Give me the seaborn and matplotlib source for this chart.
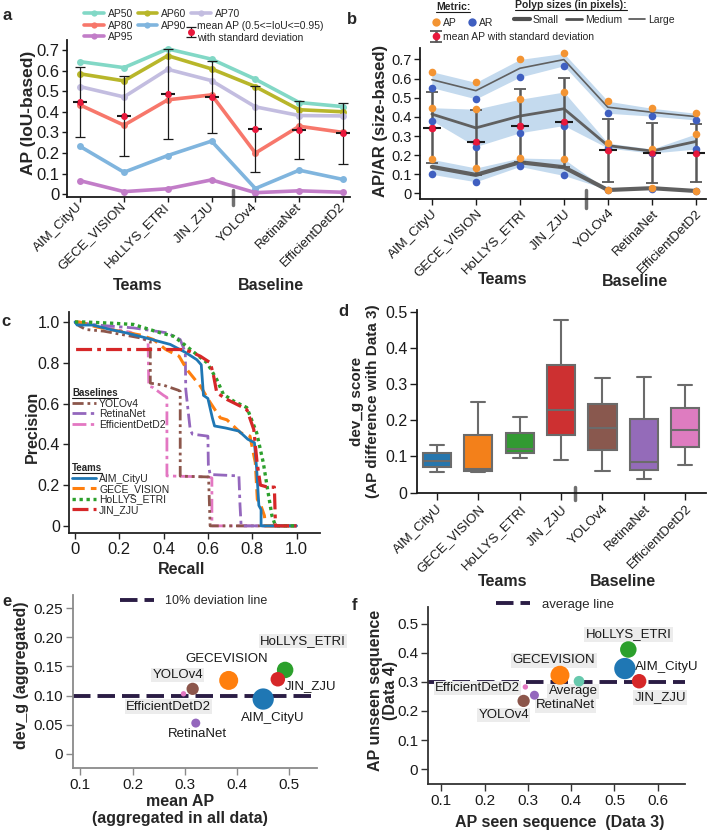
import numpy as np
import pandas as pd
import matplotlib.pyplot as plt
import seaborn as sns
from matplotlib.lines import Line2D
from matplotlib.ticker import FuncFormatter
from matplotlib.transforms import IdentityTransform

sns.set_theme(style="ticks")
plt.rcParams["font.family"] = ["Liberation Sans", "DejaVu Sans"]

# ----------------------------- data -----------------------------
teams = ["AIM_CityU", "GECE_VISION", "HoLLYS_ETRI", "JIN_ZJU", "YOLOv4", "RetinaNet", "EfficientDetD2"]

# a: IoU based AP
ap50 = [0.643, 0.614, 0.705, 0.655, 0.558, 0.445, 0.425]
ap60 = [0.584, 0.550, 0.672, 0.608, 0.522, 0.410, 0.400]
ap70 = [0.522, 0.472, 0.606, 0.551, 0.424, 0.382, 0.380]
ap80 = [0.433, 0.335, 0.458, 0.482, 0.200, 0.330, 0.300]
ap90 = [0.232, 0.107, 0.188, 0.258, 0.028, 0.117, 0.072]
ap95 = [0.066, 0.013, 0.027, 0.070, 0.008, 0.017, 0.010]
mean_ap = [0.446, 0.379, 0.486, 0.473, 0.316, 0.311, 0.295]
std_ap = [0.170, 0.195, 0.220, 0.175, 0.210, 0.140, 0.148]

# b: size based AP / AR
large_ap = [0.636, 0.580, 0.700, 0.732, 0.482, 0.445, 0.419]
large_ar = [0.553, 0.494, 0.608, 0.667, 0.419, 0.404, 0.384]
medium_ap = [0.448, 0.440, 0.492, 0.530, 0.263, 0.232, 0.311]
medium_ar = [0.381, 0.245, 0.317, 0.355, 0.237, 0.211, 0.232]
small_ap = [0.178, 0.133, 0.185, 0.180, 0.016, 0.030, 0.015]
small_ar = [0.100, 0.061, 0.141, 0.094, 0.020, 0.025, 0.011]
size_mean_ap = [0.344, 0.268, 0.355, 0.372, 0.226, 0.211, 0.211]
size_std_ap = [0.187, 0.170, 0.190, 0.233, 0.164, 0.156, 0.150]

# c: precision-recall curves
rec_aim = [0, 0.01, 0.08, 0.16, 0.23, 0.32, 0.43, 0.50, 0.55, 0.57, 0.58, 0.60, 0.62, 0.63, 0.68, 0.74, 0.78, 0.81, 0.82, 0.83, 0.84, 0.84, 1.0]
pre_aim = [1.0, 0.985, 0.985, 0.963, 0.947, 0.922, 0.89, 0.85, 0.815, 0.79, 0.64, 0.625, 0.53, 0.49, 0.48, 0.465, 0.425, 0.408, 0.28, 0.10, 0.08, 0, 0]
rec_gece = [0, 0.02, 0.10, 0.20, 0.30, 0.354, 0.41, 0.47, 0.505, 0.566, 0.611, 0.656, 0.686, 0.747, 0.79, 0.814, 0.823, 0.84, 0.855, 0.86, 1.0]
pre_gece = [1.0, 1.0, 0.975, 0.955, 0.935, 0.914, 0.865, 0.832, 0.767, 0.685, 0.604, 0.53, 0.52, 0.457, 0.44, 0.31, 0.13, 0.097, 0.05, 0, 0]
rec_hollys = [0, 0.04, 0.15, 0.264, 0.385, 0.445, 0.505, 0.55, 0.596, 0.64, 0.67, 0.716, 0.776, 0.82, 0.85, 0.867, 0.889, 0.905, 1.0]
pre_hollys = [1.0, 1.0, 0.995, 0.988, 0.947, 0.93, 0.88, 0.84, 0.80, 0.718, 0.645, 0.612, 0.58, 0.457, 0.31, 0.195, 0.05, 0, 0]
rec_jin = [0.005, 0.48, 0.52, 0.566, 0.611, 0.626, 0.64, 0.686, 0.747, 0.776, 0.807, 0.822, 0.837, 0.87, 0.90, 0.905, 1.0]
pre_jin = [0.865, 0.865, 0.855, 0.832, 0.80, 0.734, 0.653, 0.62, 0.587, 0.57, 0.473, 0.31, 0.20, 0.19, 0.19, 0, 0]
rec_yolo = [0, 0.02, 0.05, 0.13, 0.294, 0.34, 0.34, 0.40, 0.467, 0.475, 0.475, 0.60, 0.603, 0.61, 1.0]
pre_yolo = [1.0, 0.98, 0.963, 0.955, 0.922, 0.905, 0.70, 0.69, 0.665, 0.66, 0.244, 0.24, 0.24, 0, 0]
rec_retina = [0, 0.10, 0.264, 0.415, 0.475, 0.498, 0.50, 0.51, 0.52, 0.53, 0.60, 0.602, 0.61, 0.74, 0.745, 0.75, 1.0]
pre_retina = [1.0, 0.985, 0.971, 0.947, 0.914, 0.85, 0.67, 0.571, 0.473, 0.45, 0.44, 0.30, 0.252, 0.245, 0.10, 0, 0]
rec_eff = [0, 0.05, 0.15, 0.25, 0.33, 0.333, 0.35, 0.40, 0.415, 0.415, 0.60, 0.618, 0.618, 1.0]
pre_eff = [1.0, 0.99, 0.97, 0.95, 0.905, 0.685, 0.68, 0.64, 0.63, 0.245, 0.24, 0.235, 0, 0]

# d: dev_g score per team (min, q1, median, q3, max)
dev_aim = [0.056, 0.071, 0.088, 0.109, 0.132]
dev_gece = [0.056, 0.061, 0.066, 0.160, 0.252]
dev_hollys = [0.097, 0.109, 0.121, 0.166, 0.210]
dev_jin = [0.091, 0.160, 0.229, 0.352, 0.478]
dev_yolo = [0.059, 0.118, 0.178, 0.246, 0.316]
dev_retina = [0.038, 0.062, 0.085, 0.203, 0.320]
dev_eff = [0.077, 0.125, 0.172, 0.235, 0.297]

# e / f: scatter summaries
models = ["AIM_CityU", "GECEVISION", "HoLLYS_ETRI", "JIN_ZJU", "YOLOv4", "RetinaNet", "EfficientDetD2", "Average"]
agg_mean_ap = [0.450, 0.384, 0.492, 0.478, 0.315, 0.321, 0.2975]
agg_dev_g = [0.094, 0.126, 0.144, 0.128, 0.1115, 0.0527, 0.103]
ap_seen = [0.524, 0.374, 0.532, 0.557, 0.290, 0.315, 0.294, 0.418]
ap_unseen = [0.3456, 0.3226, 0.411, 0.302, 0.2344, 0.254, 0.2824, 0.302]
deviation_line = 0.10
average_line = 0.30

# ----------------------------- styling -----------------------------
W, H = 707, 831
RED = "#e8183c"
ap_colors = {"AP50": "#82d8c6", "AP60": "#b8b62a", "AP70": "#c3bde0",
             "AP80": "#f7776b", "AP90": "#80b5de", "AP95": "#c27dc8"}
model_colors = {"AIM_CityU": "#1f77b4", "GECEVISION": "#ff7f0e", "HoLLYS_ETRI": "#2ca02c",
                "JIN_ZJU": "#d62728", "YOLOv4": "#8c564b", "RetinaNet": "#9467bd",
                "EfficientDetD2": "#e377c2", "Average": "#67c9ad"}
model_area = {"AIM_CityU": 235, "GECEVISION": 187, "HoLLYS_ETRI": 141, "JIN_ZJU": 109,
              "YOLOv4": 78, "RetinaNet": 42, "EfficientDetD2": 15, "Average": 59}
DASH = (4.5, 1.8)


def box(l, t, r, b):
    return [l / W, 1 - b / H, (r - l) / W, (b - t) / H]


def fx(x):
    return x / W


def fy(y):
    return 1 - y / H


def fmt(dec):
    return FuncFormatter(lambda v, _: "0" if abs(v) < 1e-9 else f"{v:.{dec}f}")


def style(ax, ysize=11, xsize=11, tlen=4, color="k"):
    for s in ["top", "right"]:
        ax.spines[s].set_visible(False)
    for s in ["left", "bottom"]:
        ax.spines[s].set_color(color)
        ax.spines[s].set_linewidth(1.3)
    ax.tick_params(axis="y", labelsize=ysize, length=tlen, width=1, color=color, pad=2, labelcolor="#1a1a1a")
    ax.tick_params(axis="x", labelsize=xsize, length=tlen, width=1, color=color, pad=2, labelcolor="#1a1a1a")
    ax.set_xlabel("")
    ax.set_ylabel("")


def cat_ticks(ax, va):
    ax.set_xticks(range(len(teams)))
    ax.set_xticklabels(teams, rotation=45, ha="right", va=va, rotation_mode="anchor", fontsize=9.5)


def bold(x, y, s, size=11.5, rot=0, **kw):
    return fig.text(fx(x), fy(y), s, fontsize=size, fontweight="bold", rotation=rot,
                    ha=kw.pop("ha", "center"), va=kw.pop("va", "center"), **kw)


fig = plt.figure(figsize=(W / 100, H / 100), dpi=100)
ax_a = fig.add_axes(box(67, 40, 350, 197))
ax_b = fig.add_axes(box(420, 48, 706, 199))
ax_c = fig.add_axes(box(69, 312, 320, 533))
ax_d = fig.add_axes(box(417, 310, 706, 493))
ax_e = fig.add_axes(box(73, 595, 317, 768))
ax_f = fig.add_axes(box(428, 607, 685, 784))
pos = np.arange(len(teams))

# ----------------------------- a -----------------------------
df_a = pd.DataFrame({"pos": np.tile(pos, 6),
                     "AP": np.concatenate([ap50, ap60, ap70, ap80, ap90, ap95]),
                     "metric": np.repeat(list(ap_colors), len(teams))})
sns.lineplot(data=df_a, x="pos", y="AP", hue="metric", palette=ap_colors, marker="o",
             markersize=5, markeredgewidth=0, linewidth=2.6, legend=False, ax=ax_a)
eb_a = ax_a.errorbar(pos, mean_ap, yerr=std_ap, fmt="o", color=RED, ms=4, ecolor="k",
                     elinewidth=0.9, capsize=3.5, capthick=0.9, zorder=4)
ax_a.plot(pos, mean_ap, ls="none", marker="_", ms=10, mew=1.5, color="k", zorder=5)
ax_a.plot(pos, mean_ap, ls="none", marker="o", ms=4, mew=0, color=RED, zorder=6)
ax_a.set_xlim(-0.3, 6.16)
ax_a.set_ylim(-0.013, 0.748)
ax_a.set_yticks(np.arange(0, 0.71, 0.1))
ax_a.yaxis.set_major_formatter(fmt(1))
style(ax_a, ysize=12, tlen=3.5)
cat_ticks(ax_a, "center")
ax_a.axvline(3.5, ymin=-0.05, ymax=0.045, color="#707070", lw=2.5, clip_on=False)

h_a = {k: Line2D([], [], color=c, lw=2.6, marker="o", ms=4.5, mew=0) for k, c in ap_colors.items()}
blank = Line2D([], [], lw=0)
fig.legend([h_a["AP50"], h_a["AP80"], h_a["AP95"], h_a["AP60"], h_a["AP90"], h_a["AP70"], blank],
           ["AP50", "AP80", "AP95", "AP60", "AP90", "AP70", ""],
           loc="upper left", bbox_to_anchor=(fx(84), fy(9)), ncol=3, frameon=False, fontsize=7.5,
           handlelength=1.9, handletextpad=0.4, columnspacing=0.4, labelspacing=0.15,
           borderpad=0, borderaxespad=0, numpoints=1)
fig.legend([eb_a], ["mean AP (0.5<=IoU<=0.95)\nwith standard deviation"],
           loc="upper left", bbox_to_anchor=(fx(187), fy(21)), frameon=False, fontsize=7.5,
           handlelength=0.7, handletextpad=0.3, borderpad=0, borderaxespad=0)

# ----------------------------- b -----------------------------
for ap, ar, lw in [(small_ap, small_ar, 3.0), (medium_ap, medium_ar, 2.0), (large_ap, large_ar, 1.2)]:
    ax_b.fill_between(pos, ap, ar, color="#c4daee", lw=0, zorder=1)
    sns.lineplot(x=pos, y=(np.array(ap) + np.array(ar)) / 2, color="#606060", lw=lw, ax=ax_b, zorder=2)
eb_b = ax_b.errorbar(pos, size_mean_ap, yerr=size_std_ap, fmt="o", color=RED, ms=4.5,
                     ecolor="#585858", elinewidth=1.8, capsize=4.5, capthick=1.3, zorder=3)
for cap in eb_b[1]:
    cap.set_color("k")
sns.scatterplot(x=np.tile(pos, 3), y=np.concatenate([small_ar, medium_ar, large_ar]),
                color="#3f5fc0", s=30, linewidth=0, ax=ax_b, zorder=4)
sns.scatterplot(x=np.tile(pos, 3), y=np.concatenate([small_ap, medium_ap, large_ap]),
                color="#f39433", s=30, linewidth=0, ax=ax_b, zorder=4)
ax_b.plot(pos, size_mean_ap, ls="none", marker="_", ms=13, mew=1.5, color="k", zorder=5)
ax_b.plot(pos, size_mean_ap, ls="none", marker="o", ms=4.5, mew=0, color=RED, zorder=6)
ax_b.set_xlim(-0.27, 6.23)
ax_b.set_ylim(-0.029, 0.76)
ax_b.set_yticks(np.arange(0, 0.71, 0.1))
ax_b.yaxis.set_major_formatter(fmt(1))
style(ax_b, ysize=10.5, tlen=4)
cat_ticks(ax_b, "top")
ax_b.axvline(3.5, ymin=-0.06, ymax=0.06, color="#707070", lw=2.5, clip_on=False)

t_metric = fig.text(fx(436), fy(7), "Metric:", fontsize=7.5, fontweight="bold", va="center")
fig.legend([Line2D([], [], ls="none", marker="o", ms=6, mew=0, color="#f39433"),
            Line2D([], [], ls="none", marker="o", ms=6, mew=0, color="#3f5fc0")], ["AP", "AR"],
           loc="upper left", bbox_to_anchor=(fx(432), fy(18)), ncol=2, frameon=False, fontsize=7.5,
           handlelength=0.8, handletextpad=0.3, columnspacing=1.0, borderpad=0, borderaxespad=0)
fig.legend([eb_b], ["mean AP with standard deviation"], loc="upper left",
           bbox_to_anchor=(fx(432), fy(32)), frameon=False, fontsize=7.5, handlelength=0.8,
           handletextpad=0.3, borderpad=0, borderaxespad=0)
t_sizes = fig.text(fx(515), fy(5), "Polyp sizes (in pixels):", fontsize=7.5, fontweight="bold", va="center")
fig.legend([Line2D([], [], color="#505050", lw=w) for w in (3.0, 2.0, 1.2)], ["Small", "Medium", "Large"],
           loc="upper left", bbox_to_anchor=(fx(514), fy(15)), ncol=3, frameon=False, fontsize=7.5,
           handlelength=1.5, handletextpad=0.3, columnspacing=0.7, borderpad=0, borderaxespad=0)

# ----------------------------- c -----------------------------
pr_styles = {
    "AIM_CityU": (rec_aim, pre_aim, "#1f77b4", "-", 2.0),
    "GECE_VISION": (rec_gece, pre_gece, "#ff7f0e", (0, (4, 2)), 2.2),
    "HoLLYS_ETRI": (rec_hollys, pre_hollys, "#2ca02c", (0, (1, 1.1)), 2.4),
    "JIN_ZJU": (rec_jin, pre_jin, "#d62728", (0, (5, 1.6, 1.2, 1.6)), 2.3),
    "YOLOv4": (rec_yolo, pre_yolo, "#8c564b", (0, (4, 1.4, 1, 1.4, 1, 1.4)), 2.0),
    "RetinaNet": (rec_retina, pre_retina, "#9467bd", (0, (5, 1.6, 1.2, 1.6)), 2.0),
    "EfficientDetD2": (rec_eff, pre_eff, "#e377c2", (0, (5, 1.6, 1.2, 1.6)), 2.0),
}
pr_lines = {}
for name in ["EfficientDetD2", "YOLOv4", "RetinaNet", "GECE_VISION", "AIM_CityU", "HoLLYS_ETRI", "JIN_ZJU"]:
    r, p, c, ls, lw = pr_styles[name]
    pr_lines[name], = ax_c.plot(r, p, color=c, ls=ls, lw=lw)
ax_c.set_xlim(-0.027, 1.106)
ax_c.set_ylim(-0.035, 1.049)
ax_c.set_xticks(np.arange(0, 1.01, 0.2))
ax_c.set_yticks(np.arange(0, 1.01, 0.2))
ax_c.xaxis.set_major_formatter(fmt(1))
ax_c.yaxis.set_major_formatter(fmt(1))
style(ax_c, ysize=11.5, xsize=12, tlen=4.5, color="#222222")

leg_c1 = fig.legend([pr_lines[k] for k in ["YOLOv4", "RetinaNet", "EfficientDetD2"]],
                    ["YOLOv4", "RetinaNet", "EfficientDetD2"], title="Baselines",
                    title_fontproperties={"weight": "bold", "size": 7}, alignment="left",
                    loc="upper left", bbox_to_anchor=(fx(72), fy(388)), frameon=False, fontsize=7.5,
                    handlelength=2.3, handletextpad=0.3, labelspacing=0.05, borderpad=0, borderaxespad=0)
leg_c2 = fig.legend([pr_lines[k] for k in ["AIM_CityU", "GECE_VISION", "HoLLYS_ETRI", "JIN_ZJU"]],
                    ["AIM_CityU", "GECE_VISION", "HoLLYS_ETRI", "JIN_ZJU"], title="Teams",
                    title_fontproperties={"weight": "bold", "size": 7}, alignment="left",
                    loc="upper left", bbox_to_anchor=(fx(72), fy(463)), frameon=False, fontsize=7.5,
                    handlelength=2.3, handletextpad=0.3, labelspacing=0.05, borderpad=0, borderaxespad=0)

# ----------------------------- d -----------------------------
df_d = pd.DataFrame({"team": np.repeat(teams, 5),
                     "dev_g": np.concatenate([dev_aim, dev_gece, dev_hollys, dev_jin,
                                              dev_yolo, dev_retina, dev_eff])})
box_colors = ["#1f77b4", "#ff7f0e", "#2ca02c", "#d62728", "#8c564b", "#9467bd", "#e377c2"]
sns.boxplot(data=df_d, x="team", y="dev_g", hue="team", order=teams, hue_order=teams,
            palette=box_colors, width=0.68, linewidth=1.5, linecolor="#6b6b6b", saturation=0.9,
            legend=False, ax=ax_d)
ax_d.set_xlim(-0.48, 6.5)
ax_d.set_ylim(-0.001, 0.505)
ax_d.set_yticks(np.arange(0, 0.51, 0.1))
ax_d.yaxis.set_major_formatter(fmt(1))
style(ax_d, ysize=11.5, tlen=5)
cat_ticks(ax_d, "top")
ax_d.axvline(3.33, ymin=-0.038, ymax=0.035, color="#707070", lw=2.5, clip_on=False)

# ----------------------------- e -----------------------------
df_e = pd.DataFrame({"model": models[:7], "mean_ap": agg_mean_ap, "dev_g": agg_dev_g})
ax_e.axhline(deviation_line, color="#2b1d45", lw=2.8, dashes=DASH, zorder=1)
sns.scatterplot(data=df_e, x="mean_ap", y="dev_g", hue="model", palette=model_colors, size="model",
                sizes=model_area, legend=False, linewidth=0, ax=ax_e, zorder=3)
labels_e = {"AIM_CityU": (10, 19, False), "GECEVISION": (-2, -21, False), "HoLLYS_ETRI": (18, -29, True),
            "JIN_ZJU": (33, 7, False), "YOLOv4": (-15, -14, True), "RetinaNet": (2, 11, False),
            "EfficientDetD2": (-15, 13, True)}
for _, row in df_e.iterrows():
    dx, dy, bg = labels_e[row["model"]]
    ax_e.annotate(row["model"], (row["mean_ap"], row["dev_g"]), xytext=(dx, -dy), textcoords="offset pixels",
                  ha="center", va="center", fontsize=9.5, color="#1a1a1a", zorder=2,
                  bbox=dict(boxstyle="square,pad=0.1", fc="#ececec" if bg else "none", ec="none"))
ax_e.set_xlim(0.086, 0.553)
ax_e.set_ylim(-0.0245, 0.2728)
ax_e.set_xticks(np.arange(0.1, 0.51, 0.1))
ax_e.set_yticks(np.arange(0, 0.251, 0.05))
ax_e.xaxis.set_major_formatter(fmt(1))
ax_e.yaxis.set_major_formatter(fmt(2))
style(ax_e, ysize=11, xsize=11, tlen=5, color="#8a8a8a")
fig.legend([Line2D([], [], color="#2b1d45", lw=2.8, dashes=DASH)], ["10% deviation line"],
           loc="center left", bbox_to_anchor=(fx(120), fy(601)), frameon=False, fontsize=9,
           handlelength=2.7, handletextpad=0.9, borderpad=0, borderaxespad=0)

# ----------------------------- f -----------------------------
df_f = pd.DataFrame({"model": models, "seen": ap_seen, "unseen": ap_unseen})
ax_f.axhline(average_line, color="#2b1d45", lw=2.8, dashes=DASH, zorder=1)
sns.scatterplot(data=df_f, x="seen", y="unseen", hue="model", palette=model_colors, size="model",
                sizes=model_area, legend=False, linewidth=0, ax=ax_f, zorder=3)
labels_f = {"AIM_CityU": (42, -2, False), "GECEVISION": (-6, -15, True), "HoLLYS_ETRI": (0, -15, True),
            "JIN_ZJU": (21, 16, True), "YOLOv4": (-20, 14, True), "RetinaNet": (31, 10, True),
            "EfficientDetD2": (-48, 1, True), "Average": (-6, 10, True)}
for _, row in df_f.iterrows():
    dx, dy, bg = labels_f[row["model"]]
    ax_f.annotate(row["model"], (row["seen"], row["unseen"]), xytext=(dx, -dy), textcoords="offset pixels",
                  ha="center", va="center", fontsize=9.5, color="#1a1a1a", zorder=2,
                  bbox=dict(boxstyle="square,pad=0.1", fc="#ececec" if bg else "none", ec="none"))
ax_f.set_xlim(0.069, 0.663)
ax_f.set_ylim(-0.051, 0.557)
ax_f.set_xticks(np.arange(0.1, 0.61, 0.1))
ax_f.set_yticks(np.arange(0, 0.51, 0.1))
ax_f.xaxis.set_major_formatter(fmt(1))
ax_f.yaxis.set_major_formatter(fmt(1))
style(ax_f, ysize=11, xsize=11, tlen=5, color="#333333")
fig.legend([Line2D([], [], color="#2b1d45", lw=2.8, dashes=DASH)], ["average line"],
           loc="center left", bbox_to_anchor=(fx(496), fy(605)), frameon=False, fontsize=9.5,
           handlelength=2.6, handletextpad=0.9, borderpad=0, borderaxespad=0)

# ----------------------------- text -----------------------------
for letter, x, y in [("a", 7, 15), ("b", 352, 20), ("c", 6, 322), ("d", 343, 312), ("e", 7, 602), ("f", 355, 605)]:
    bold(x, y, letter, size=12)
bold(28, 113, "AP (IoU-based)", size=12.5, rot=90)
bold(380, 121, "AP/AR (size-based)", size=12, rot=90)
bold(32, 427, "Precision", size=11.5, rot=90)
bold(365, 401, "dev_g score\n(AP difference with Data 3)", size=11, rot=90, linespacing=1.1)
bold(22, 675, "dev_g (aggregated)", size=11.5, rot=90)
bold(383, 690, "AP unseen sequence\n(Data 4)", size=11.5, rot=90, linespacing=1.05)
bold(182, 569, "Recall", size=11.5)
bold(180, 810, "mean AP\n(aggregated in all data)", size=11.5, linespacing=1.1)
bold(560, 822, "AP seen sequence  (Data 3)", size=11.5)
for (x, y, s) in [(138, 285, "Teams"), (271, 285, "Baseline"), (503, 279, "Teams"), (635, 282, "Baseline"),
                  (503, 581, "Teams"), (623, 581, "Baseline")]:
    bold(x, y, s, size=11.5)

# underline the small legend headings
fig.canvas.draw()
renderer = fig.canvas.get_renderer()
for t in [t_metric, t_sizes, leg_c1.get_title(), leg_c2.get_title()]:
    bb = t.get_window_extent(renderer)
    fig.add_artist(Line2D([bb.x0, bb.x1], [bb.y0 + 0.5, bb.y0 + 0.5], transform=IdentityTransform(),
                          color="k", lw=0.8))

fig.savefig("out.png", dpi=100)
